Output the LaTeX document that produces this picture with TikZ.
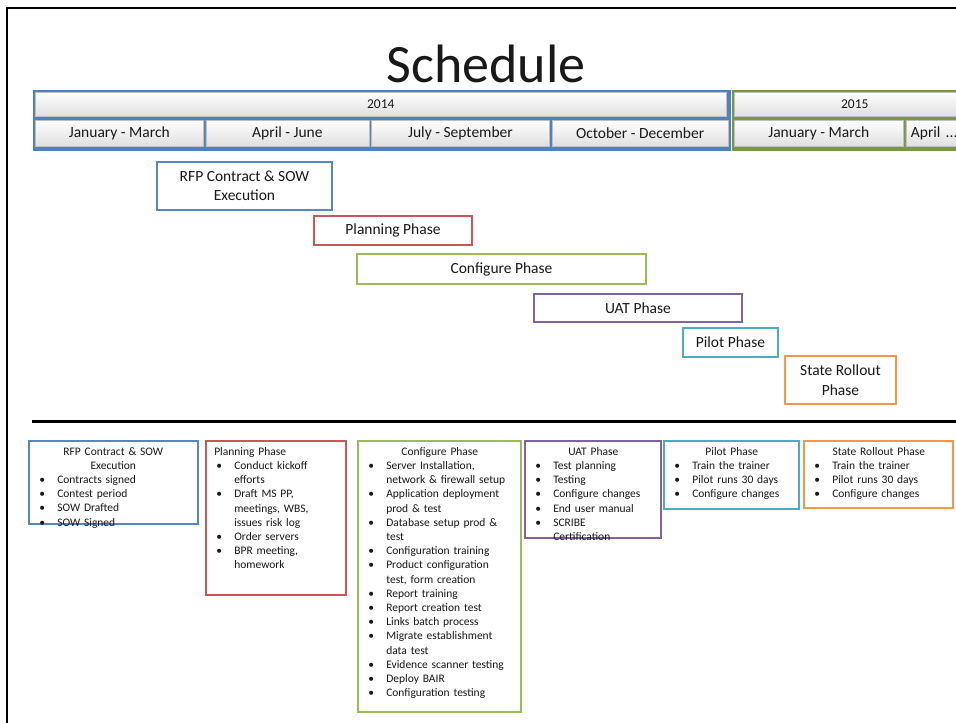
\documentclass[tikz,border=0pt]{standalone}
\usepackage{fontspec}
\setmainfont{Carlito}
\usepackage{tikz}
\usetikzlibrary{positioning}

\definecolor{hdrblue}{RGB}{79,129,189}
\definecolor{hdrgreen}{RGB}{122,150,66}
\definecolor{rfpblue}{RGB}{84,135,196}
\definecolor{planred}{RGB}{200,88,86}
\definecolor{cfggreen}{RGB}{155,187,89}
\definecolor{uatpurple}{RGB}{128,100,162}
\definecolor{pilotteal}{RGB}{75,172,198}
\definecolor{stateorange}{RGB}{247,150,70}

\newcommand{\bitem}[1]{\par\hangindent=24pt\hangafter=1\noindent\makebox[24pt][l]{\hspace{6pt}\textbullet}#1\par}

\begin{document}
\begin{tikzpicture}[x=1pt,y=-1pt,semithick,text=black!90,node distance=2pt]
  \tikzstyle{frame}=[line width=2.5pt,anchor=north west,inner sep=0pt]
  \tikzstyle{cell}=[draw=gray!50,top color=white,bottom color=gray!25,inner sep=0pt,
                    font=\fontsize{15.5}{18}\selectfont]
  \tikzstyle{yearcell}=[cell,anchor=north west,minimum height=24,font=\fontsize{13.5}{16}\selectfont]
  \tikzstyle{phase}=[draw,line width=1.6pt,fill=white,inner sep=0pt,align=center,
                     font=\fontsize{15.5}{19.5}\selectfont]
  \tikzstyle{detail}=[draw,line width=1.6pt,inner sep=0pt,anchor=north west]
  \tikzstyle{items}=[anchor=north west,inner sep=2pt,align=left,
                     font=\fontsize{11.5}{14.2}\selectfont]

  \useasboundingbox (0,0) rectangle (956,723);
  \clip (0,0) rectangle (956,723);
  \fill[white] (0,0) rectangle (956,723);
  \draw[line width=2pt] (7,740) -- (7,8) -- (970,8);

  \node[anchor=base,font=\fontsize{54}{60}\selectfont] (title) at (486,82) {Schedule};

  % year and quarter header
  \node[frame,draw=hdrblue,fill=hdrblue,minimum width=695,minimum height=58] (f14) at (33,90) {};
  \node[yearcell,minimum width=691] (y14) at (35,92) {2014};
  \node[cell,anchor=north west,minimum width=168,minimum height=26] (q1) at (35,120) {January - March};
  \node[cell,minimum width=163,minimum height=26] (q2) [right=of q1] {April - June};
  \node[cell,minimum width=178,minimum height=26] (q3) [right=of q2] {July - September};
  \node[cell,minimum width=176,minimum height=26] (q4) [right=of q3] {October - December};

  \node[frame,draw=hdrgreen,fill=hdrgreen,minimum width=245,minimum height=58] (f15) at (732,90) {};
  \node[yearcell,minimum width=241] (y15) at (734,92) {2015};
  \node[cell,anchor=north west,minimum width=169,minimum height=26] (r1) at (734,120) {January - March};
  \node[cell,minimum width=60,minimum height=26,text width=50,align=left] (r2) [right=of r1] {April ...};

  % phase bars
  \node[phase,draw=rfpblue,minimum width=175,minimum height=48] (rfp) at (244.5,186) {RFP Contract \& SOW\\Execution};
  \node[phase,draw=planred,minimum width=158,minimum height=29] (plan) at (393,230.5) {Planning Phase};
  \node[phase,draw=cfggreen,minimum width=289,minimum height=30] (cfg) at (501.5,269) {Configure Phase};
  \node[phase,draw=uatpurple,minimum width=208,minimum height=28] (uat) at (638,308) {UAT Phase};
  \node[phase,draw=pilotteal,minimum width=95,minimum height=29] (pilot) at (730.5,342.5) {Pilot Phase};
  \node[phase,draw=stateorange,minimum width=111,minimum height=48] (state) at (840.5,380) {State Rollout\\Phase};

  \coordinate (sepL) at (32,421);
  \coordinate (sepR) at (970,421);
  \draw[line width=3pt] (sepL) -- (sepR);

  % detail boxes
  \node[detail,draw=rfpblue,minimum width=169,minimum height=83] (rfpd) at (28,440) {};
  \node[items,text width=160] (rfpt) at ([shift={(3,5)}]rfpd.north west)
    {{\centering RFP Contract \& SOW\\Execution\par}
     \bitem{Contracts signed}\bitem{Contest period}\bitem{SOW Drafted}\bitem{SOW Signed}};

  \node[detail,draw=planred,minimum width=140,minimum height=154] (pland) at (205,440) {};
  \node[items,text width=132] (plant) at ([shift={(3,5)}]pland.north west)
    {\hspace{4pt}Planning Phase
     \bitem{Conduct kickoff\newline efforts}\bitem{Draft MS PP,\newline meetings, WBS,\newline issues risk log}
     \bitem{Order servers}\bitem{BPR meeting,\newline homework}};

  \node[detail,draw=cfggreen,minimum width=163,minimum height=271] (cfgd) at (357,440) {};
  \node[items,text width=155] (cfgt) at ([shift={(3,5)}]cfgd.north west)
    {{\centering Configure Phase\par}
     \bitem{Server Installation,\newline network \& firewall setup}\bitem{Application deployment\newline prod \& test}
     \bitem{Database setup prod \&\newline test}\bitem{Configuration training}
     \bitem{Product configuration\newline test, form creation}\bitem{Report training}
     \bitem{Report creation test}\bitem{Links batch process}
     \bitem{Migrate establishment\newline data test}\bitem{Evidence scanner testing}
     \bitem{Deploy BAIR}\bitem{Configuration testing}};

  \node[detail,draw=uatpurple,minimum width=136,minimum height=97] (uatd) at (524,440) {};
  \node[items,text width=128] (uatt) at ([shift={(3,5)}]uatd.north west)
    {{\centering UAT Phase\par}
     \bitem{Test planning}\bitem{Testing}\bitem{Configure changes}
     \bitem{End user manual}\bitem{SCRIBE\newline Certification}};

  \node[detail,draw=pilotteal,minimum width=135,minimum height=68] (pilotd) at (663,440) {};
  \node[items,text width=127] (pilott) at ([shift={(3,5)}]pilotd.north west)
    {{\centering Pilot Phase\par}
     \bitem{Train the trainer}\bitem{Pilot runs 30 days}\bitem{Configure changes}};

  \node[detail,draw=stateorange,minimum width=149,minimum height=67] (stated) at (803,440) {};
  \node[items,text width=141] (statet) at ([shift={(3,5)}]stated.north west)
    {{\centering State Rollout Phase\par}
     \bitem{Train the trainer}\bitem{Pilot runs 30 days}\bitem{Configure changes}};
\end{tikzpicture}
\end{document}
